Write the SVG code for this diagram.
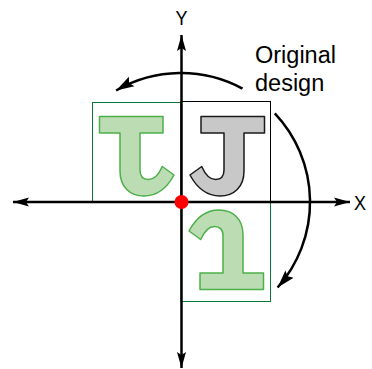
<svg xmlns="http://www.w3.org/2000/svg" width="372" height="369" viewBox="0 0 372 369">
<style>
.axis{stroke:#000;stroke-width:2.5;fill:none}
.rot{stroke:#000;stroke-width:2.5;fill:none}
.frame-g{fill:none;stroke:#0a7a3c;stroke-width:1}
.frame-k{fill:none;stroke:#000;stroke-width:1}
.jorig{fill:#c8c8c8;stroke:#1a1a1a;stroke-width:1.5;stroke-linejoin:round}
.jgreen{fill:#bcdcb4;stroke:#4cb048;stroke-width:1.5;stroke-linejoin:round}
.lbl{font-family:"Liberation Sans",Arial,sans-serif;fill:#000}
</style>
<defs>
<marker id="ah" markerUnits="userSpaceOnUse" markerWidth="18" markerHeight="12" refX="16" refY="5" orient="auto-start-reverse" viewBox="0 0 18 10">
<path d="M0,0.5 L16,5 L0,9.5 L3,5 Z" fill="#000"/>
</marker>
<marker id="ah2" markerUnits="userSpaceOnUse" markerWidth="20" markerHeight="12" refX="18" refY="6" orient="auto" viewBox="0 0 20 12">
<path d="M0,0.5 L18,6 L0,11.5 L3,6 Z" fill="#000"/>
</marker>
<path id="J" d="M201,116.5 L264.5,116.5 L264.5,133 L244,133 L244,171 C244,187 234,196 220,196 C207,196 197,188 190,175 L201.7,166.5 C205,174 210,179.5 215.5,179.5 C220.5,179.5 224,176.5 224,170 L224,133 L201,133 Z"/>
</defs>
<g id="frames">
<rect id="frame-left" class="frame-g" x="92.5" y="102.5" width="88.5" height="99.5"/>
<rect id="frame-orig" class="frame-k" x="181" y="101.5" width="89.5" height="100.5"/>
<rect id="frame-bottom" class="frame-g" x="181" y="202" width="89.5" height="99.5"/>
</g>
<g id="shape-original"><use href="#J" class="jorig"/></g>
<g id="shape-left"><use href="#J" class="jgreen" transform="translate(364,0) scale(-1,1)"/></g>
<g id="shape-bottom"><use href="#J" class="jgreen" transform="translate(-1,406) scale(1,-1)"/></g>
<g id="connectors">
<line class="axis" x1="13" y1="202" x2="350" y2="202" marker-start="url(#ah)" marker-end="url(#ah)"/>
<line class="axis" x1="181.5" y1="368" x2="181.5" y2="35" marker-start="url(#ah)" marker-end="url(#ah)"/>
<path class="rot" d="M242.5,88.6 A129,129 0 0 0 116.1,90.5" marker-end="url(#ah2)"/>
<path class="rot" d="M274.8,113.4 A129,129 0 0 1 277.6,287.5" marker-end="url(#ah2)"/>
</g>
<g id="origin"><circle cx="181.5" cy="202" r="7" fill="#ff0000"/></g>
<g id="labels">
<text class="lbl" x="181.5" y="25" font-size="21" text-anchor="middle" textLength="12" lengthAdjust="spacingAndGlyphs">Y</text>
<text class="lbl" x="354" y="210" font-size="21" textLength="12" lengthAdjust="spacingAndGlyphs">X</text>
<text class="lbl" x="255" y="63" font-size="23.5">Original</text>
<text class="lbl" x="255" y="91" font-size="23.5">design</text>
</g>
</svg>
